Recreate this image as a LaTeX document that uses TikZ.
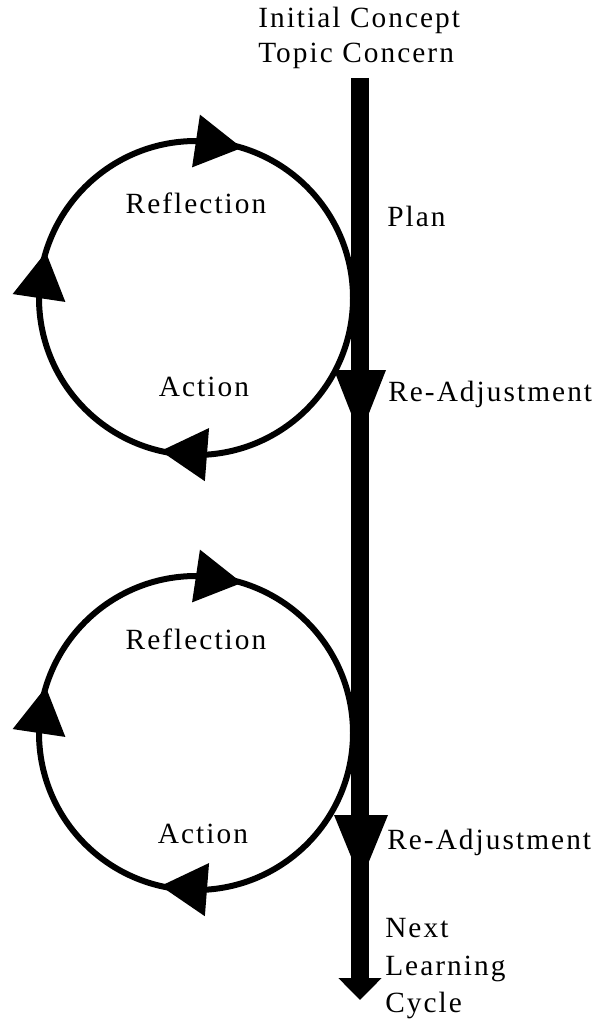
\documentclass[tikz,border=0pt]{standalone}
\usepackage{fontspec}
\setmainfont{Liberation Serif}[LetterSpace=7]
\usetikzlibrary{calc,arrows.meta}
\begin{document}
\begin{tikzpicture}[x=0.75pt,y=-0.75pt,
  txt/.style={inner sep=0pt, font=\fontsize{22}{28}\selectfont},
  loop/.style={circle, draw, line width=4.5pt, inner sep=0pt, minimum size=235.5pt},
  spine/.style={line width=13.5pt, -{Triangle[length=16.5pt,width=31.5pt]}}]
\useasboundingbox (0,0) rectangle (599,1024);

% the two action-reflection loops
\node[loop] (loopA) at (196,298) {};
\node[loop] (loopB) at (196,733) {};

% direction markers around each loop (clockwise)
\foreach \c in {loopA,loopB}{
  \foreach \t in {-90,180,86}{
    \path (\c.center) ++(\t:157) coordinate (b)
          (\c.center) ++(\t+17:157) coordinate (t);
    \fill (t) -- ($(b)!20pt!90:(t)$) -- ($(b)!20pt!-90:(t)$) -- cycle;
  }
}

% main time line
\coordinate (top) at (360,78);
\coordinate (bot) at (360,1000);
\draw[spine] (top) -- (bot);

% re-adjustment markers on the time line
\coordinate (m1) at (360,370);
\coordinate (m2) at (361,815);
\fill ($(m1)+(-26,0)$) -- ($(m1)+(26,0)$) -- ($(m1)+(0,66)$) -- cycle;
\fill ($(m2)+(-27,0)$) -- ($(m2)+(27,0)$) -- ($(m2)+(0,66)$) -- cycle;

% labels
\node[txt, anchor=base west] (init)  at (258,28)  {Initial Concept};
\node[txt, anchor=base west] (topic) at (258,63)  {Topic Concern};
\node[txt, anchor=base west] (plan)  at (387,226) {Plan};
\node[txt, anchor=base west] (adj1)  at (388,401) {Re-Adjustment};
\node[txt, anchor=base]      (refl1) at (196,213) {Reflection};
\node[txt, anchor=base]      (act1)  at (204,396) {Action};
\node[txt, anchor=base]      (refl2) at (196,649) {Reflection};
\node[txt, anchor=base]      (act2)  at (203,843) {Action};
\node[txt, anchor=base west] (adj2)  at (387,849) {Re-Adjustment};
\node[txt, anchor=base west] (next)  at (385,937) {Next};
\node[txt, anchor=base west] (learn) at (385,975) {Learning};
\node[txt, anchor=base west] (cycle) at (385,1012) {Cycle};
\end{tikzpicture}
\end{document}
